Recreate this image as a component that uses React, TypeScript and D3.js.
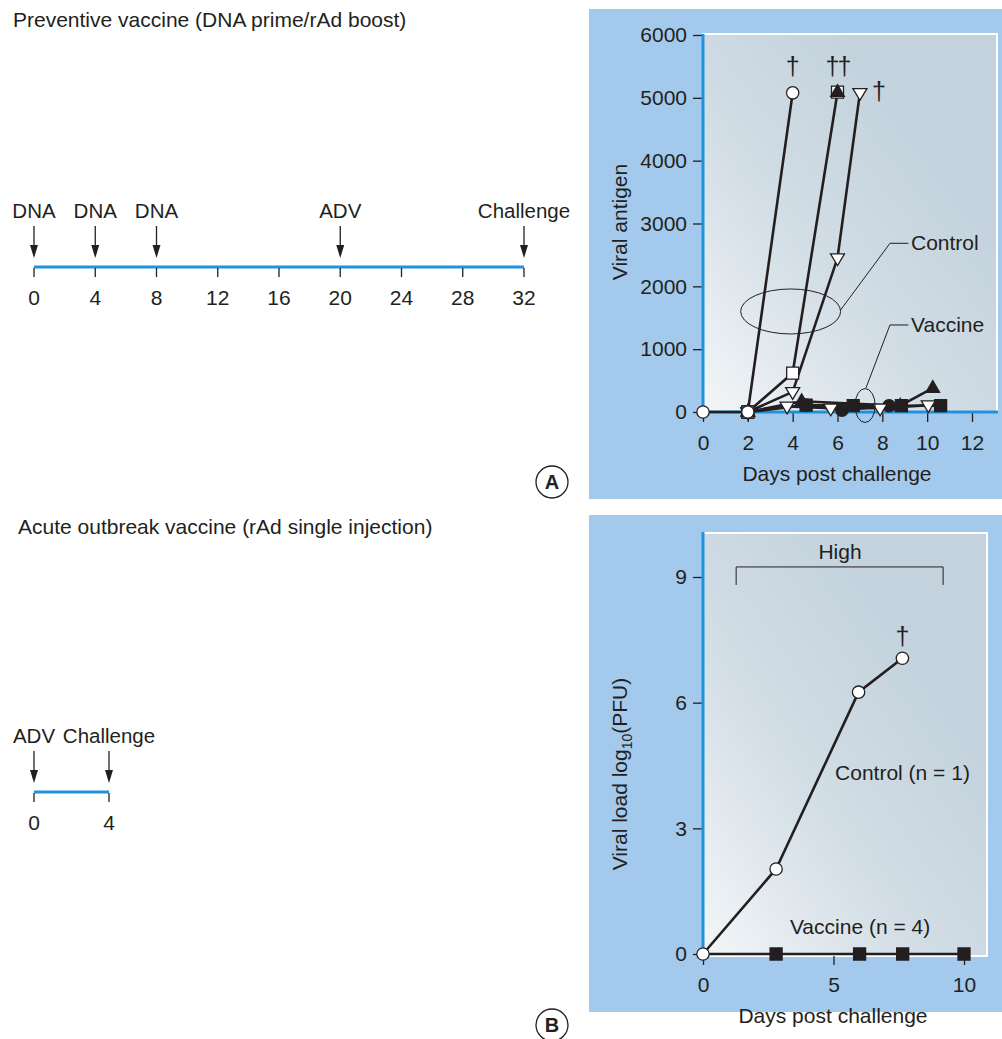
import React, { useEffect, useRef } from "react";
import * as d3 from "d3";

const FONT = "'Liberation Sans', Arial, Helvetica, sans-serif";
const INK = "#231f20";
const PANEL_BLUE = "#a3c9ec";
const AXIS_BLUE = "#1e92dc";

// schedules (weeks)
const weeksA = [0, 4, 8, 12, 16, 20, 24, 28, 32];
const eventsA = [
  { label: "DNA", week: 0 },
  { label: "DNA", week: 4 },
  { label: "DNA", week: 8 },
  { label: "ADV", week: 20 },
  { label: "Challenge", week: 32 },
];
const weeksB = [0, 4];
const eventsB = [
  { label: "ADV", week: 0 },
  { label: "Challenge", week: 4 },
];

// panel A: viral antigen
const antigenXTicks = [0, 2, 4, 6, 8, 10, 12];
const antigenYTicks = [0, 1000, 2000, 3000, 4000, 5000, 6000];

type Pt = [number, number];
const ctrlCircle: Pt[] = [[0, 0], [2, 0], [4, 5080]];
const ctrlSquare: Pt[] = [[2, 0], [4, 620], [6, 5090]];
const ctrlTriUp: Pt[] = [[2, 0], [6, 5090]];
const ctrlTriDown: Pt[] = [[2, 0], [4, 320], [6, 2450], [7, 5080]];
const vacTriUp: Pt[] = [[2, 0], [4.4, 170], [8.8, 100], [10.25, 380]];
const vacSquare: Pt[] = [[2, 0], [4.6, 110], [6.7, 100], [8.85, 100], [10.6, 100]];
const vacCircle: Pt[] = [[4.6, 110], [6.2, 30], [8.3, 100]];
const vacTriDown: Pt[] = [[2, 0], [3.75, 90], [5.7, 60], [7.9, 60], [10.05, 110]];

// panel B: viral load
const loadXTicks = [0, 5, 10];
const loadYTicks = [0, 3, 6, 9];
const loadControl: Pt[] = [[0, 0], [2.8, 2.03], [5.96, 6.25], [7.64, 7.06]];
const loadVaccine: Pt[] = [[0, 0], [2.8, 0], [6.0, 0], [7.65, 0], [10.0, 0]];

type Marker = "circle" | "square" | "triUp" | "triDown" | "fcircle" | "fsquare";

const markerPath = (m: Marker) => {
  if (m === "circle" || m === "fcircle") return d3.symbol(d3.symbolCircle, 120)();
  if (m === "square" || m === "fsquare") return "M-6,-6H6V6H-6Z";
  if (m === "triUp") return "M0,-7.5L6.8,4.2L-6.8,4.2Z";
  return "M0,7.5L7,-4.2L-7,-4.2Z";
};

const App = () => {
  const ref = useRef<SVGSVGElement>(null);

  useEffect(() => {
    const svg = d3.select(ref.current);
    svg.selectAll("*").remove();

    const defs = svg.append("defs");
    const grad = defs
      .append("linearGradient")
      .attr("id", "plotGrad")
      .attr("x1", 0)
      .attr("y1", 1)
      .attr("x2", 0.75)
      .attr("y2", 0.25);
    grad.append("stop").attr("offset", 0).attr("stop-color", "#f3f6f8");
    grad.append("stop").attr("offset", 0.5).attr("stop-color", "#d3dee6");
    grad.append("stop").attr("offset", 1).attr("stop-color", "#c3d2dd");

    const text = (x: number, y: number, s: string, size = 21, anchor = "start") =>
      svg
        .append("text")
        .attr("x", x)
        .attr("y", y)
        .attr("font-family", FONT)
        .attr("font-size", size)
        .attr("fill", INK)
        .attr("text-anchor", anchor)
        .text(s);

    // ---------- schedules ----------
    text(13, 27, "Preventive vaccine (DNA prime/rAd boost)");
    text(18, 534, "Acute outbreak vaccine (rAd single injection)");

    const timeline = (
      domain: [number, number],
      range: [number, number],
      ticks: number[],
      events: { label: string; week: number }[],
      lineY: number
    ) => {
      const x = d3.scaleLinear().domain(domain).range(range);
      const g = svg.append("g");
      g.append("line")
        .attr("x1", x(domain[0]))
        .attr("x2", x(domain[1]))
        .attr("y1", lineY)
        .attr("y2", lineY)
        .attr("stroke", AXIS_BLUE)
        .attr("stroke-width", 3);
      ticks.forEach((t) => {
        g.append("line")
          .attr("x1", x(t))
          .attr("x2", x(t))
          .attr("y1", lineY + 1)
          .attr("y2", lineY + 10)
          .attr("stroke", INK)
          .attr("stroke-width", 1.3);
        text(x(t), lineY + 38, String(t), 21, "middle");
      });
      events.forEach((e) => {
        const cx = x(e.week);
        g.append("line")
          .attr("x1", cx)
          .attr("x2", cx)
          .attr("y1", lineY - 41)
          .attr("y2", lineY - 20)
          .attr("stroke", INK)
          .attr("stroke-width", 1.3);
        g.append("path")
          .attr("d", `M${cx - 4},${lineY - 22}L${cx + 4},${lineY - 22}L${cx},${lineY - 9}Z`)
          .attr("fill", INK);
        text(cx, lineY - 49, e.label, 20.5, "middle");
      });
    };
    timeline([0, 32], [34, 524], weeksA, eventsA, 267);
    timeline([0, 4], [34, 109], weeksB, eventsB, 792);

    // panel letters
    const letter = (cx: number, cy: number, s: string) => {
      svg
        .append("circle")
        .attr("cx", cx)
        .attr("cy", cy)
        .attr("r", 16)
        .attr("fill", "#fff")
        .attr("stroke", INK)
        .attr("stroke-width", 1.3);
      text(cx, cy + 7, s, 20, "middle").attr("font-weight", "bold");
    };
    letter(552, 482, "A");
    letter(552, 1025, "B");

    // ---------- shared chart helpers ----------
    const frame = (left: number, top: number, right: number, bottom: number) => {
      svg
        .append("rect")
        .attr("x", left)
        .attr("y", top)
        .attr("width", right - left)
        .attr("height", bottom - top)
        .attr("fill", "url(#plotGrad)")
        .attr("stroke", "#fff")
        .attr("stroke-width", 2);
    };

    const styleAxis = (g: d3.Selection<SVGGElement, unknown, null, undefined>) => {
      g.select(".domain").remove();
      g.selectAll(".tick line").attr("stroke", INK).attr("stroke-width", 1.3);
      g.selectAll(".tick text")
        .attr("fill", INK)
        .attr("font-family", FONT)
        .attr("font-size", 21);
    };

    const drawSeries = (
      x: d3.ScaleLinear<number, number>,
      y: d3.ScaleLinear<number, number>,
      pts: Pt[]
    ) => {
      const line = d3
        .line<Pt>()
        .x((d) => x(d[0]))
        .y((d) => y(d[1]));
      svg
        .append("path")
        .attr("d", line(pts))
        .attr("fill", "none")
        .attr("stroke", INK)
        .attr("stroke-width", 2.6);
    };

    const drawMarkers = (
      x: d3.ScaleLinear<number, number>,
      y: d3.ScaleLinear<number, number>,
      pts: Pt[],
      m: Marker
    ) => {
      const filled = m === "triUp" || m === "fcircle" || m === "fsquare";
      svg
        .append("g")
        .selectAll("path")
        .data(pts)
        .enter()
        .append("path")
        .attr("transform", (d) => `translate(${x(d[0])},${y(d[1])})`)
        .attr("d", markerPath(m))
        .attr("fill", filled ? INK : "#fff")
        .attr("stroke", INK)
        .attr("stroke-width", 1.3);
    };

    // ---------- panel A chart ----------
    svg.append("rect").attr("x", 589).attr("y", 9).attr("width", 413).attr("height", 490).attr("fill", PANEL_BLUE);
    frame(703, 34, 997, 412);

    const xA = d3.scaleLinear().domain([0, 12]).range([703, 972]);
    const yA = d3.scaleLinear().domain([0, 6000]).range([412, 35]);

    const gxA = svg
      .append("g")
      .attr("transform", "translate(0,412)")
      .call(d3.axisBottom(xA).tickValues(antigenXTicks).tickSize(10).tickPadding(13));
    styleAxis(gxA);
    const gyA = svg
      .append("g")
      .attr("transform", "translate(703,0)")
      .call(
        d3.axisLeft(yA).tickValues(antigenYTicks).tickFormat(d3.format("d")).tickSize(10).tickPadding(6)
      );
    styleAxis(gyA);

    svg.append("line").attr("x1", 703).attr("x2", 703).attr("y1", 34).attr("y2", 413).attr("stroke", AXIS_BLUE).attr("stroke-width", 3);
    svg.append("line").attr("x1", 702).attr("x2", 998).attr("y1", 412).attr("y2", 412).attr("stroke", AXIS_BLUE).attr("stroke-width", 3);

    [vacTriUp, vacSquare, vacCircle, vacTriDown, ctrlCircle, ctrlSquare, ctrlTriDown].forEach((p) =>
      drawSeries(xA, yA, p)
    );
    drawMarkers(xA, yA, vacCircle, "fcircle");
    drawMarkers(xA, yA, vacTriUp, "triUp");
    drawMarkers(xA, yA, vacSquare, "fsquare");
    drawMarkers(xA, yA, vacTriDown, "triDown");
    drawMarkers(xA, yA, ctrlSquare, "square");
    drawMarkers(xA, yA, ctrlTriUp, "triUp");
    drawMarkers(xA, yA, ctrlTriDown, "triDown");
    drawMarkers(xA, yA, ctrlCircle, "circle");

    // group callouts
    const thin = (pts: Pt[], x: d3.ScaleLinear<number, number>, y: d3.ScaleLinear<number, number>) =>
      svg
        .append("path")
        .attr("d", d3.line<Pt>().x((d) => x(d[0])).y((d) => y(d[1]))(pts))
        .attr("fill", "none")
        .attr("stroke", INK)
        .attr("stroke-width", 1);

    const ellipse = (cx: number, cy: number, rx: number, ry: number) =>
      svg
        .append("ellipse")
        .attr("cx", xA(cx))
        .attr("cy", yA(cy))
        .attr("rx", xA(rx) - xA(0))
        .attr("ry", yA(0) - yA(ry))
        .attr("fill", "none")
        .attr("stroke", INK)
        .attr("stroke-width", 1);

    ellipse(3.91, 1600, 2.23, 358);
    thin([[6.14, 1624], [8.34, 2685], [9.16, 2685]], xA, yA);
    text(xA(9.28), yA(2685) + 7, "Control");

    ellipse(7.23, 103, 0.45, 270);
    thin([[7.27, 382], [8.34, 1385], [9.16, 1385]], xA, yA);
    text(xA(9.28), yA(1385) + 7, "Vaccine");

    text(xA(4), yA(5510) + 9, "\u2020", 25, "middle");
    text(xA(6), yA(5510) + 9, "\u2020\u2020", 25, "middle").attr("letter-spacing", -2);
    text(xA(7.85), yA(5110) + 9, "\u2020", 25, "middle");

    svg
      .append("text")
      .attr("transform", "translate(627,222) rotate(-90)")
      .attr("text-anchor", "middle")
      .attr("font-family", FONT)
      .attr("font-size", 21)
      .attr("fill", INK)
      .text("Viral antigen");
    text(837, 481, "Days post challenge", 21, "middle");

    // ---------- panel B chart ----------
    svg.append("rect").attr("x", 589).attr("y", 515).attr("width", 413).attr("height", 497).attr("fill", PANEL_BLUE);
    frame(703, 533, 987, 956);

    const xB = d3.scaleLinear().domain([0, 10]).range([703, 964]);
    const yB = d3.scaleLinear().domain([0, 9]).range([954, 577]);

    const gxB = svg
      .append("g")
      .attr("transform", "translate(0,956)")
      .call(d3.axisBottom(xB).tickValues(loadXTicks).tickSize(9).tickPadding(12));
    styleAxis(gxB);
    const gyB = svg
      .append("g")
      .attr("transform", "translate(703,0)")
      .call(d3.axisLeft(yB).tickValues(loadYTicks).tickSize(10).tickPadding(6));
    styleAxis(gyB);
    svg.append("line").attr("x1", 703).attr("x2", 703).attr("y1", 532).attr("y2", 956).attr("stroke", AXIS_BLUE).attr("stroke-width", 3);

    drawSeries(xB, yB, loadVaccine);
    drawSeries(xB, yB, loadControl);
    drawMarkers(xB, yB, loadVaccine.slice(1), "fsquare");
    drawMarkers(xB, yB, loadControl, "circle");

    thin([[1.27, 8.81], [1.27, 9.24], [9.2, 9.24], [9.2, 8.81]], xB, yB);
    text(xB(5.25), yB(9.6) + 7, "High", 21, "middle");
    text(xB(7.64), yB(7.6) + 9, "\u2020", 25, "middle");
    text(xB(5.06), yB(4.32) + 7, "Control (n = 1)");
    text(xB(3.33), yB(0.64) + 7, "Vaccine (n = 4)");

    const yl = svg
      .append("text")
      .attr("transform", "translate(627,774) rotate(-90)")
      .attr("text-anchor", "middle")
      .attr("font-family", FONT)
      .attr("font-size", 21)
      .attr("fill", INK);
    yl.append("tspan").text("Viral load log");
    yl.append("tspan").attr("font-size", 14).attr("dy", 5).text("10");
    yl.append("tspan").attr("dy", -5).text("(PFU)");
    text(833, 1023, "Days post challenge", 21, "middle");
  }, []);

  return (
    <svg
      ref={ref}
      width={1002}
      height={1039}
      style={{ position: "absolute", left: 0, top: 0, background: "#fff" }}
    />
  );
};

export default App;
